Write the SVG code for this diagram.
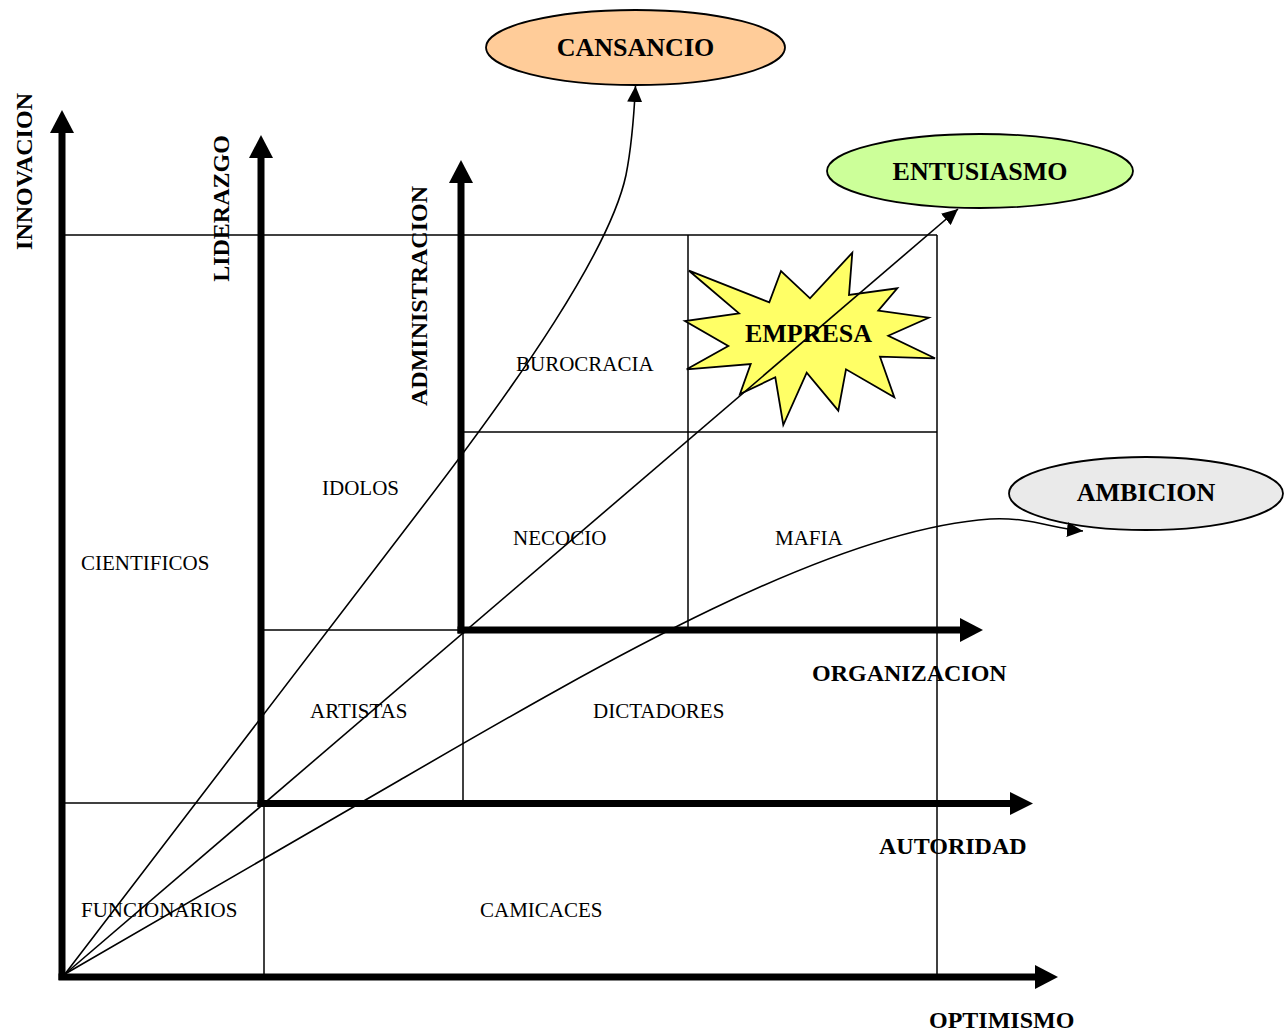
<svg xmlns="http://www.w3.org/2000/svg" width="1287" height="1035" viewBox="0 0 1287 1035">
  <style>
    .grid { stroke: #000; stroke-width: 1.5; fill: none; }
    .axis { stroke: #000; stroke-width: 7; fill: none; }
    .head { fill: #000; stroke: none; }
    .conn { stroke: #000; stroke-width: 1.6; fill: none; marker-end: url(#tip); }
    .region { font-family: "Liberation Serif", "Times New Roman", serif; font-size: 21px; fill: #000; }
    .axlabel { font-family: "Liberation Serif", "Times New Roman", serif; font-size: 24px; font-weight: bold; fill: #000; }
    .big { font-family: "Liberation Serif", "Times New Roman", serif; font-size: 26px; font-weight: bold; fill: #000; text-anchor: middle; }
    .shape { stroke: #000; stroke-width: 1.8; }
  </style>
  <defs>
    <marker id="tip" markerUnits="userSpaceOnUse" viewBox="0 0 16 15" refX="16" refY="7.5" markerWidth="16" markerHeight="15" orient="auto">
      <path d="M0,0 L16,7.5 L0,15 Z" fill="#000"/>
    </marker>
  </defs>

  <rect width="1287" height="1035" fill="#fff"/>

  <!-- thin grid lines between the axes -->
  <g id="grid" class="grid">
    <line x1="63" y1="235" x2="937" y2="235"/>
    <line x1="937" y1="235" x2="937" y2="977"/>
    <line x1="688" y1="235" x2="688" y2="630"/>
    <line x1="461" y1="432" x2="937" y2="432"/>
    <line x1="261" y1="630" x2="461" y2="630"/>
    <line x1="463" y1="630" x2="463" y2="803"/>
    <line x1="63" y1="803" x2="261" y2="803"/>
    <line x1="264" y1="803" x2="264" y2="977"/>
  </g>

  <!-- three nested pairs of thick axes -->
  <g id="axes">
    <g id="axis-innovacion">
      <line class="axis" x1="62" y1="980" x2="62" y2="131"/>
      <polygon class="head" points="62,110 50,133 74,133"/>
      <text class="axlabel" transform="translate(32,171.5) rotate(-90)" text-anchor="middle">INNOVACION</text>
    </g>
    <g id="axis-liderazgo">
      <line class="axis" x1="261" y1="807" x2="261" y2="156"/>
      <polygon class="head" points="261,135 249,158 273,158"/>
      <text class="axlabel" transform="translate(229,208.5) rotate(-90)" text-anchor="middle">LIDERAZGO</text>
    </g>
    <g id="axis-administracion">
      <line class="axis" x1="461" y1="633.5" x2="461" y2="181"/>
      <polygon class="head" points="461,160 449,183 473,183"/>
      <text class="axlabel" transform="translate(427,296) rotate(-90)" text-anchor="middle">ADMINISTRACION</text>
    </g>
    <g id="axis-optimismo">
      <line class="axis" x1="58.5" y1="977" x2="1037" y2="977"/>
      <polygon class="head" points="1058,977 1035,965 1035,989"/>
      <text class="axlabel" x="929" y="1028">OPTIMISMO</text>
    </g>
    <g id="axis-autoridad">
      <line class="axis" x1="257.5" y1="803.5" x2="1012" y2="803.5"/>
      <polygon class="head" points="1033,803.5 1010,792 1010,815"/>
      <text class="axlabel" x="879" y="854">AUTORIDAD</text>
    </g>
    <g id="axis-organizacion">
      <line class="axis" x1="457.5" y1="630" x2="962" y2="630"/>
      <polygon class="head" points="983,630 960,618 960,642"/>
      <text class="axlabel" x="812" y="681">ORGANIZACION</text>
    </g>
  </g>

  <!-- starburst -->
  <g id="node-empresa">
    <polygon class="shape" fill="#FFFF66" points="852.3,252.7 849,295 897.3,288.3 878.3,310.7 928.7,317.7 888.3,335.7 935,358.3 880,356.7 894.3,397.3 846,369.3 838.3,410.7 806.7,372.7 783.3,425 775.3,377.3 740,394 750.7,364 686.7,369.3 728.3,346 685,321 739,313.3 689,270.7 769.3,302.3 781,271 810,298.3"/>
  </g>

  <!-- cell labels -->
  <g id="regions">
    <g id="region-cientificos"><text class="region" x="81" y="570">CIENTIFICOS</text></g>
    <g id="region-funcionarios"><text class="region" x="81" y="917">FUNCIONARIOS</text></g>
    <g id="region-camicaces"><text class="region" x="480" y="917">CAMICACES</text></g>
    <g id="region-idolos"><text class="region" x="322" y="495">IDOLOS</text></g>
    <g id="region-artistas"><text class="region" x="310" y="718">ARTISTAS</text></g>
    <g id="region-dictadores"><text class="region" x="593" y="718">DICTADORES</text></g>
    <g id="region-burocracia"><text class="region" x="516" y="371">BUROCRACIA</text></g>
    <g id="region-necocio"><text class="region" x="513" y="545">NECOCIO</text></g>
    <g id="region-mafia"><text class="region" x="775" y="545">MAFIA</text></g>
  </g>

  <!-- ellipses -->
  <g id="node-cansancio">
    <ellipse class="shape" cx="635.5" cy="47.5" rx="149.5" ry="37.5" fill="#FFCC99"/>
    <text class="big" x="635.5" y="56">CANSANCIO</text>
  </g>
  <g id="node-entusiasmo">
    <ellipse class="shape" cx="980" cy="171" rx="153" ry="37" fill="#CCFF99"/>
    <text class="big" x="980" y="180">ENTUSIASMO</text>
  </g>
  <g id="node-ambicion">
    <ellipse class="shape" cx="1146" cy="493.5" rx="137" ry="36.5" fill="#EAEAEA"/>
    <text class="big" x="1146" y="501">AMBICION</text>
  </g>

  <!-- connectors from the origin -->
  <g id="connectors">
    <path class="conn" d="M65,974 L420,510 C520,380 610,250 626,175 C632,145 634,115 635.5,86"/>
    <path class="conn" d="M65,974 L958,209"/>
    <path class="conn" d="M65,974 L400,780 C600,664 830,530 990,519 C1030,517 1050,528 1083,531"/>
  </g>

  <g id="empresa-label">
    <text class="big" x="808.5" y="342">EMPRESA</text>
  </g>
</svg>
